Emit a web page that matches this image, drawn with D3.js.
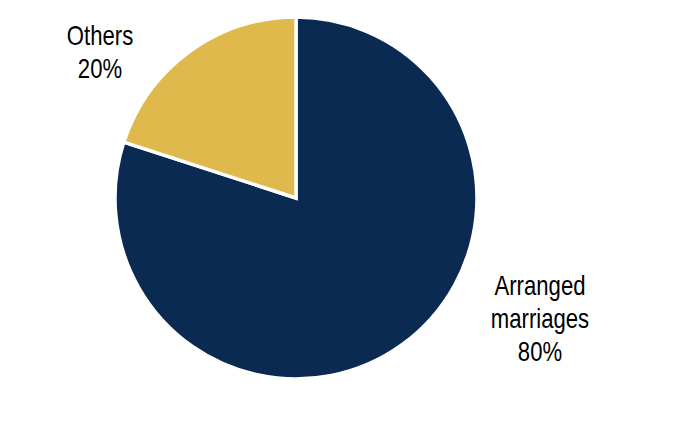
<!DOCTYPE html>
<meta charset="utf-8">
<style>
body { margin: 0; background: #fff; }
.label { font-family: "Liberation Sans", Arial, sans-serif; font-size: 27px; fill: #000; }
</style>
<svg width="692" height="426"></svg>
<script src="https://cdn.jsdelivr.net/npm/d3@7"></script>
<script>

var categories = ["Arranged marriages", "Others"];
var values = [80, 20];
var colors = ["#0b2a51", "#e0b94d"];
var labelLines = [["Arranged", "marriages", "80%"], ["Others", "20%"]];

var svg = d3.select("svg"),
    cx = 296,
    cy = 198,
    radius = 181;

// label anchors (x centre, first baseline), relative to the pie centre
var labelPos = [[244, 97], [-196, -153]];
var lineHeight = 33;

var pie = d3.pie().sort(null).value(function(d) { return d; });
var arc = d3.arc().innerRadius(0).outerRadius(radius);

var g = svg.append("g").attr("transform", "translate(" + cx + "," + cy + ")");

var arcs = pie(values);

g.selectAll("path")
    .data(arcs)
  .enter().append("path")
    .attr("d", arc)
    .style("fill", function(d, i) { return colors[i]; })
    .style("stroke", "#fff")
    .style("stroke-width", 3.5)
    .style("stroke-linejoin", "miter");

// narrow font is not installed, so squeeze the regular one
g.selectAll("text")
    .data(arcs)
  .enter().append("text")
    .attr("class", "label")
    .attr("text-anchor", "middle")
    .attr("transform", function(d, i) {
      return "translate(" + labelPos[i][0] + "," + labelPos[i][1] + ") scale(0.82,1)";
    })
    .each(function(d, i) {
      var t = d3.select(this);
      labelLines[i].forEach(function(l, j) {
        t.append("tspan").attr("x", 0).attr("y", j * lineHeight).text(l);
      });
    });

</script>
